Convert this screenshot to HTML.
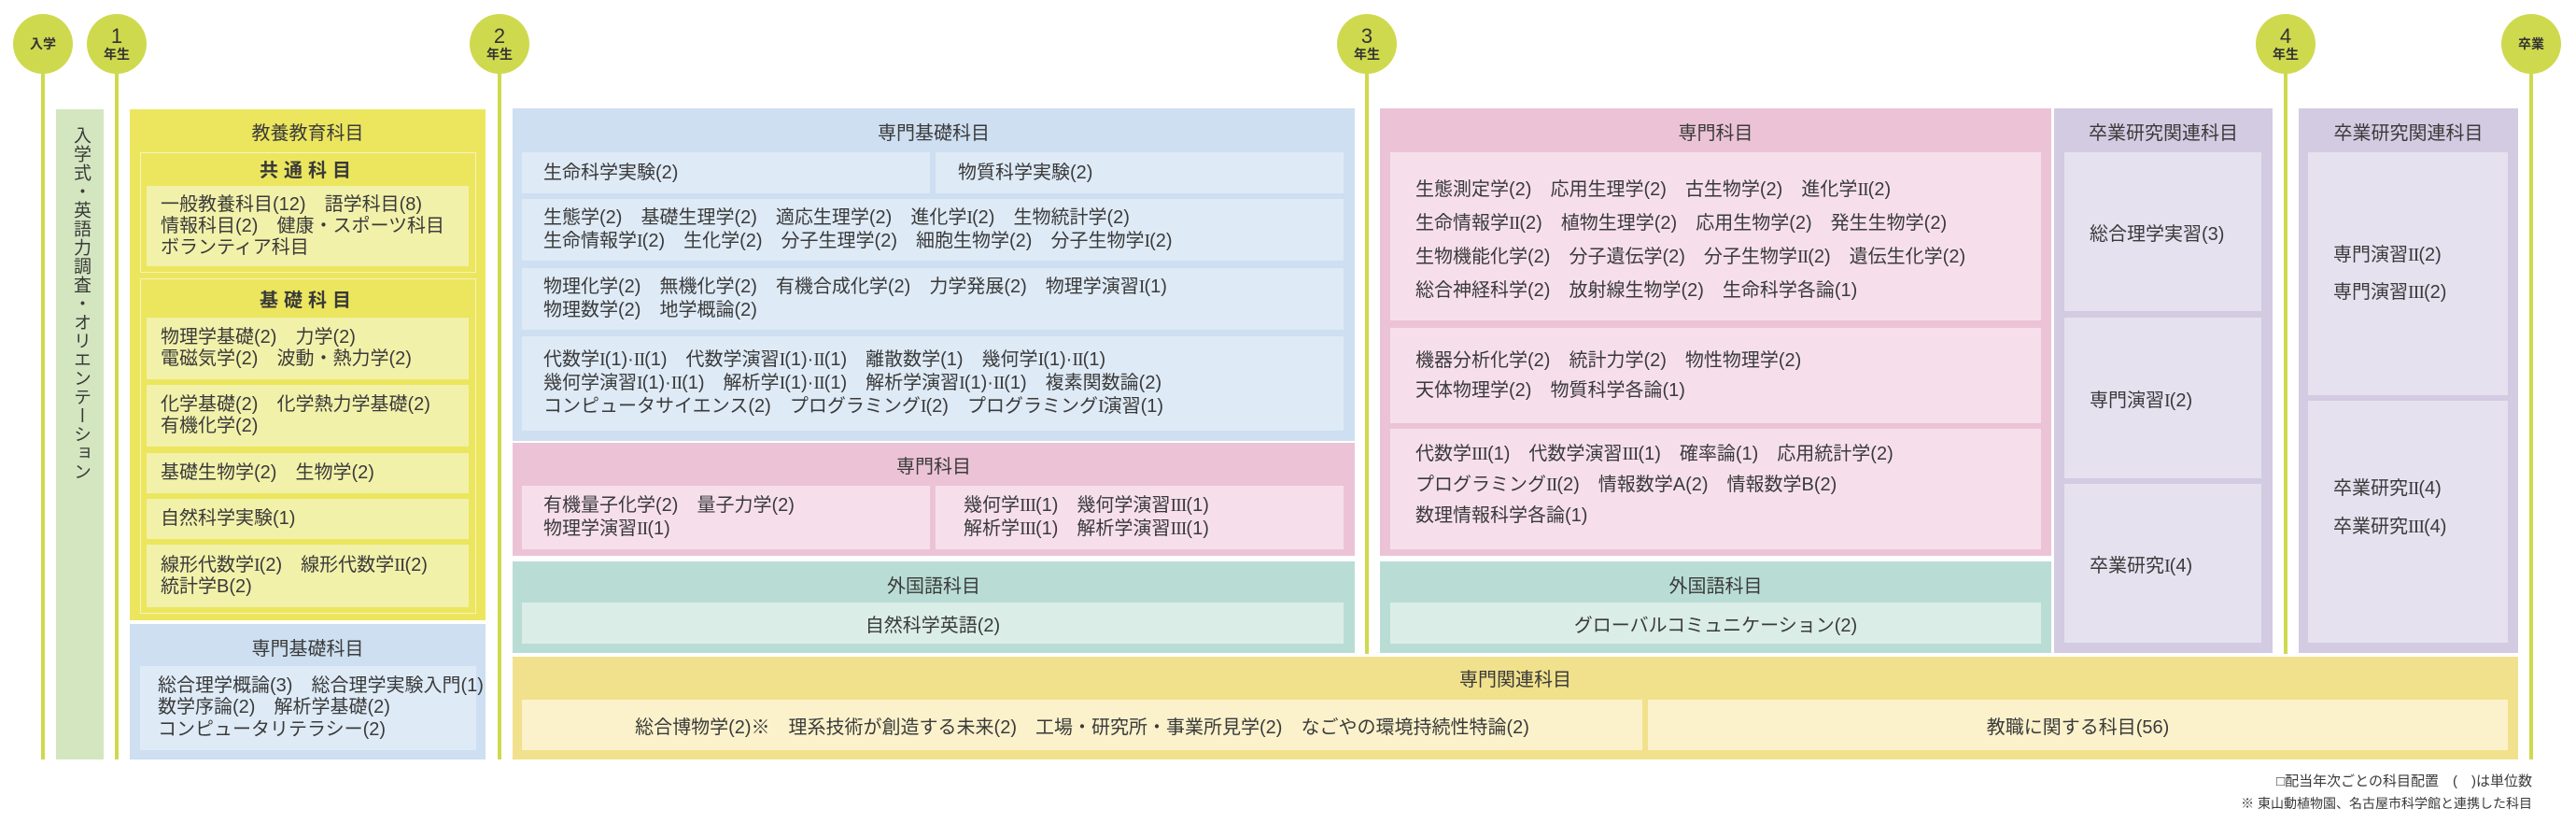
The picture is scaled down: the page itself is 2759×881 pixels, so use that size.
<!DOCTYPE html>
<html><head><meta charset="utf-8">
<style>
*{margin:0;padding:0;box-sizing:border-box}
body{width:2759px;height:881px;background:#fff;position:relative;overflow:hidden;font-family:"Liberation Sans","Noto Sans CJK JP",sans-serif;color:#3a3a3a}
.a{position:absolute}
.ln{position:absolute;width:4px;background:#cfd94e;top:47px}
.c{position:absolute;width:64px;height:64px;border-radius:50%;background:#cfd94e;top:15px;text-align:center;color:#333;display:flex;flex-direction:column;justify-content:center;align-items:center}
.c b{font-weight:400;font-size:22px;line-height:22px}
.c span{font-size:14px;line-height:16px;font-weight:700}
.t{position:absolute;font-size:20px;text-align:center;line-height:24px;white-space:nowrap}
.bx{position:absolute;font-size:20px;white-space:nowrap;display:flex;flex-direction:column;justify-content:center}
.fy{background:#f2f1aa;line-height:23px;padding-left:15px}
.fb{background:#deebf7}
.bl{background:#deeaf6;line-height:25px}
.pk{background:#f6dfeb}
.tl{background:#dbede7;text-align:center}
.pu{background:#e5e1ef}
.yl{background:#fbf2cb;text-align:center}
i{font-family:"Liberation Serif",serif;font-style:normal;letter-spacing:-1px}
</style></head><body>
<div class="ln" style="left:44px;height:766px"></div>
<div class="ln" style="left:123px;height:766px"></div>
<div class="ln" style="left:533px;height:766px"></div>
<div class="ln" style="left:1462px;height:653px"></div>
<div class="ln" style="left:2446px;height:653px"></div>
<div class="ln" style="left:2709px;height:766px"></div>
<div class="c" style="left:14px"><span>入学</span></div>
<div class="c" style="left:93px"><b>1</b><span>年生</span></div>
<div class="c" style="left:503px"><b>2</b><span>年生</span></div>
<div class="c" style="left:1432px"><b>3</b><span>年生</span></div>
<div class="c" style="left:2416px"><b>4</b><span>年生</span></div>
<div class="c" style="left:2679px"><span>卒業</span></div>

<div class="a" style="left:60px;top:117px;width:51px;height:696px;background:#d4e6c0"></div>
<div class="a" style="left:73px;top:135px;writing-mode:vertical-rl;font-size:19px;letter-spacing:1px;line-height:26px">入学式・英語力調査・オリエンテーション</div>

<div class="a" style="left:139px;top:117px;width:381px;height:547px;background:#ece65f"></div>
<div class="t" style="left:139px;width:381px;top:131px">教養教育科目</div>
<div class="a" style="left:150px;top:163px;width:360px;height:129px;border:1px solid #f6f3b8"></div>
<div class="t" style="left:150px;width:360px;top:171px;font-weight:700;letter-spacing:6px">共通科目</div>
<div class="bx fy" style="left:157px;top:199px;width:345px;height:86px;justify-content:flex-start;padding-top:9px">一般教養科目(12)　語学科目(8)<br>情報科目(2)　健康・スポーツ科目<br>ボランティア科目</div>
<div class="a" style="left:150px;top:298px;width:360px;height:359px;border:1px solid #f6f3b8"></div>
<div class="t" style="left:150px;width:360px;top:310px;font-weight:700;letter-spacing:6px">基礎科目</div>
<div class="bx fy" style="left:157px;top:340px;width:345px;height:66px">物理学基礎(2)　力学(2)<br>電磁気学(2)　波動・熱力学(2)</div>
<div class="bx fy" style="left:157px;top:412px;width:345px;height:66px">化学基礎(2)　化学熱力学基礎(2)<br>有機化学(2)</div>
<div class="bx fy" style="left:157px;top:485px;width:345px;height:43px">基礎生物学(2)　生物学(2)</div>
<div class="bx fy" style="left:157px;top:534px;width:345px;height:43px">自然科学実験(1)</div>
<div class="bx fy" style="left:157px;top:583px;width:345px;height:67px"><span>線形代数学<i>I</i>(2)　線形代数学<i>II</i>(2)</span>統計学B(2)</div>
<div class="a" style="left:139px;top:668px;width:381px;height:145px;background:#cddff1"></div>
<div class="t" style="left:139px;width:381px;top:683px">専門基礎科目</div>
<div class="bx fb" style="left:150px;top:713px;width:360px;height:90px;padding-left:19px;line-height:23.5px">総合理学概論(3)　総合理学実験入門(1)<br>数学序論(2)　解析学基礎(2)<br>コンピュータリテラシー(2)</div>

<div class="a" style="left:549px;top:116px;width:902px;height:356px;background:#cddff1"></div>
<div class="t" style="left:549px;width:902px;top:131px">専門基礎科目</div>
<div class="bx bl" style="left:559px;top:163px;width:437px;height:44px;padding-left:23px">生命科学実験(2)</div>
<div class="bx bl" style="left:1002px;top:163px;width:437px;height:44px;padding-left:24px">物質科学実験(2)</div>
<div class="bx bl" style="left:559px;top:213px;width:880px;height:66px;padding-left:23px"><span>生態学(2)　基礎生理学(2)　適応生理学(2)　進化学<i>I</i>(2)　生物統計学(2)</span><span>生命情報学<i>I</i>(2)　生化学(2)　分子生理学(2)　細胞生物学(2)　分子生物学<i>I</i>(2)</span></div>
<div class="bx bl" style="left:559px;top:287px;width:880px;height:66px;padding-left:23px"><span>物理化学(2)　無機化学(2)　有機合成化学(2)　力学発展(2)　物理学演習<i>I</i>(1)</span><span>物理数学(2)　地学概論(2)</span></div>
<div class="bx bl" style="left:559px;top:360px;width:880px;height:101px;padding-left:23px"><span>代数学<i>I</i>(1)·<i>II</i>(1)　代数学演習<i>I</i>(1)·<i>II</i>(1)　離散数学(1)　幾何学<i>I</i>(1)·<i>II</i>(1)</span><span>幾何学演習<i>I</i>(1)·<i>II</i>(1)　解析学<i>I</i>(1)·<i>II</i>(1)　解析学演習<i>I</i>(1)·<i>II</i>(1)　複素関数論(2)</span><span>コンピュータサイエンス(2)　プログラミング<i>I</i>(2)　プログラミング<i>I</i>演習(1)</span></div>
<div class="a" style="left:549px;top:474px;width:902px;height:121px;background:#ecc3d6"></div>
<div class="t" style="left:549px;width:902px;top:488px">専門科目</div>
<div class="bx pk" style="left:559px;top:520px;width:437px;height:68px;padding-left:23px;line-height:25px"><span>有機量子化学(2)　量子力学(2)</span><span>物理学演習<i>II</i>(1)</span></div>
<div class="bx pk" style="left:1002px;top:520px;width:437px;height:68px;padding-left:30px;line-height:25px"><span>幾何学<i>III</i>(1)　幾何学演習<i>III</i>(1)</span><span>解析学<i>III</i>(1)　解析学演習<i>III</i>(1)</span></div>
<div class="a" style="left:549px;top:601px;width:902px;height:98px;background:#b9ddd4"></div>
<div class="t" style="left:549px;width:902px;top:616px">外国語科目</div>
<div class="bx tl" style="left:559px;top:645px;width:880px;height:44px">自然科学英語(2)</div>

<div class="a" style="left:1478px;top:116px;width:719px;height:479px;background:#ecc3d6"></div>
<div class="t" style="left:1478px;width:719px;top:131px">専門科目</div>
<div class="bx pk" style="left:1489px;top:163px;width:697px;height:180px;padding-left:27px;line-height:36px;padding-top:8px"><span>生態測定学(2)　応用生理学(2)　古生物学(2)　進化学<i>II</i>(2)</span><span>生命情報学<i>II</i>(2)　植物生理学(2)　応用生物学(2)　発生生物学(2)</span><span>生物機能化学(2)　分子遺伝学(2)　分子生物学<i>II</i>(2)　遺伝生化学(2)</span><span>総合神経科学(2)　放射線生物学(2)　生命科学各論(1)</span></div>
<div class="bx pk" style="left:1489px;top:351px;width:697px;height:102px;padding-left:27px;line-height:32px">機器分析化学(2)　統計力学(2)　物性物理学(2)<br>天体物理学(2)　物質科学各論(1)</div>
<div class="bx pk" style="left:1489px;top:459px;width:697px;height:129px;padding-left:27px;line-height:33px;padding-bottom:8px"><span>代数学<i>III</i>(1)　代数学演習<i>III</i>(1)　確率論(1)　応用統計学(2)</span><span>プログラミング<i>II</i>(2)　情報数学A(2)　情報数学B(2)</span><span>数理情報科学各論(1)</span></div>
<div class="a" style="left:1478px;top:601px;width:719px;height:98px;background:#b9ddd4"></div>
<div class="t" style="left:1478px;width:719px;top:616px">外国語科目</div>
<div class="bx tl" style="left:1489px;top:645px;width:697px;height:44px">グローバルコミュニケーション(2)</div>

<div class="a" style="left:2200px;top:116px;width:234px;height:583px;background:#d3cbe2"></div>
<div class="t" style="left:2200px;width:234px;top:131px">卒業研究関連科目</div>
<div class="bx pu" style="left:2211px;top:163px;width:211px;height:170px;padding-left:27px">総合理学実習(3)</div>
<div class="bx pu" style="left:2211px;top:340px;width:211px;height:172px;padding-left:27px"><span>専門演習<i>I</i>(2)</span></div>
<div class="bx pu" style="left:2211px;top:518px;width:211px;height:170px;padding-left:27px"><span>卒業研究<i>I</i>(4)</span></div>
<div class="a" style="left:2462px;top:116px;width:235px;height:583px;background:#d3cbe2"></div>
<div class="t" style="left:2462px;width:235px;top:131px">卒業研究関連科目</div>
<div class="bx pu" style="left:2472px;top:163px;width:214px;height:260px;padding-left:27px;line-height:40px"><span>専門演習<i>II</i>(2)</span><span>専門演習<i>III</i>(2)</span></div>
<div class="bx pu" style="left:2472px;top:429px;width:214px;height:259px;padding-left:27px;line-height:41px;padding-bottom:30px"><span>卒業研究<i>II</i>(4)</span><span>卒業研究<i>III</i>(4)</span></div>

<div class="a" style="left:549px;top:703px;width:2148px;height:110px;background:#f1e18c"></div>
<div class="t" style="left:549px;width:2148px;top:716px">専門関連科目</div>
<div class="bx yl" style="left:559px;top:749px;width:1200px;height:54px">総合博物学(2)※　理系技術が創造する未来(2)　工場・研究所・事業所見学(2)　なごやの環境持続性特論(2)</div>
<div class="bx yl" style="left:1765px;top:749px;width:921px;height:54px">教職に関する科目(56)</div>

<div class="a" style="right:47px;top:827px;font-size:15px;line-height:20px;text-align:right;white-space:nowrap">□配当年次ごとの科目配置　(　)は単位数</div>
<div class="a" style="right:47px;top:850px;font-size:14px;line-height:20px;text-align:right;white-space:nowrap">※ 東山動植物園、名古屋市科学館と連携した科目</div>
</body></html>
